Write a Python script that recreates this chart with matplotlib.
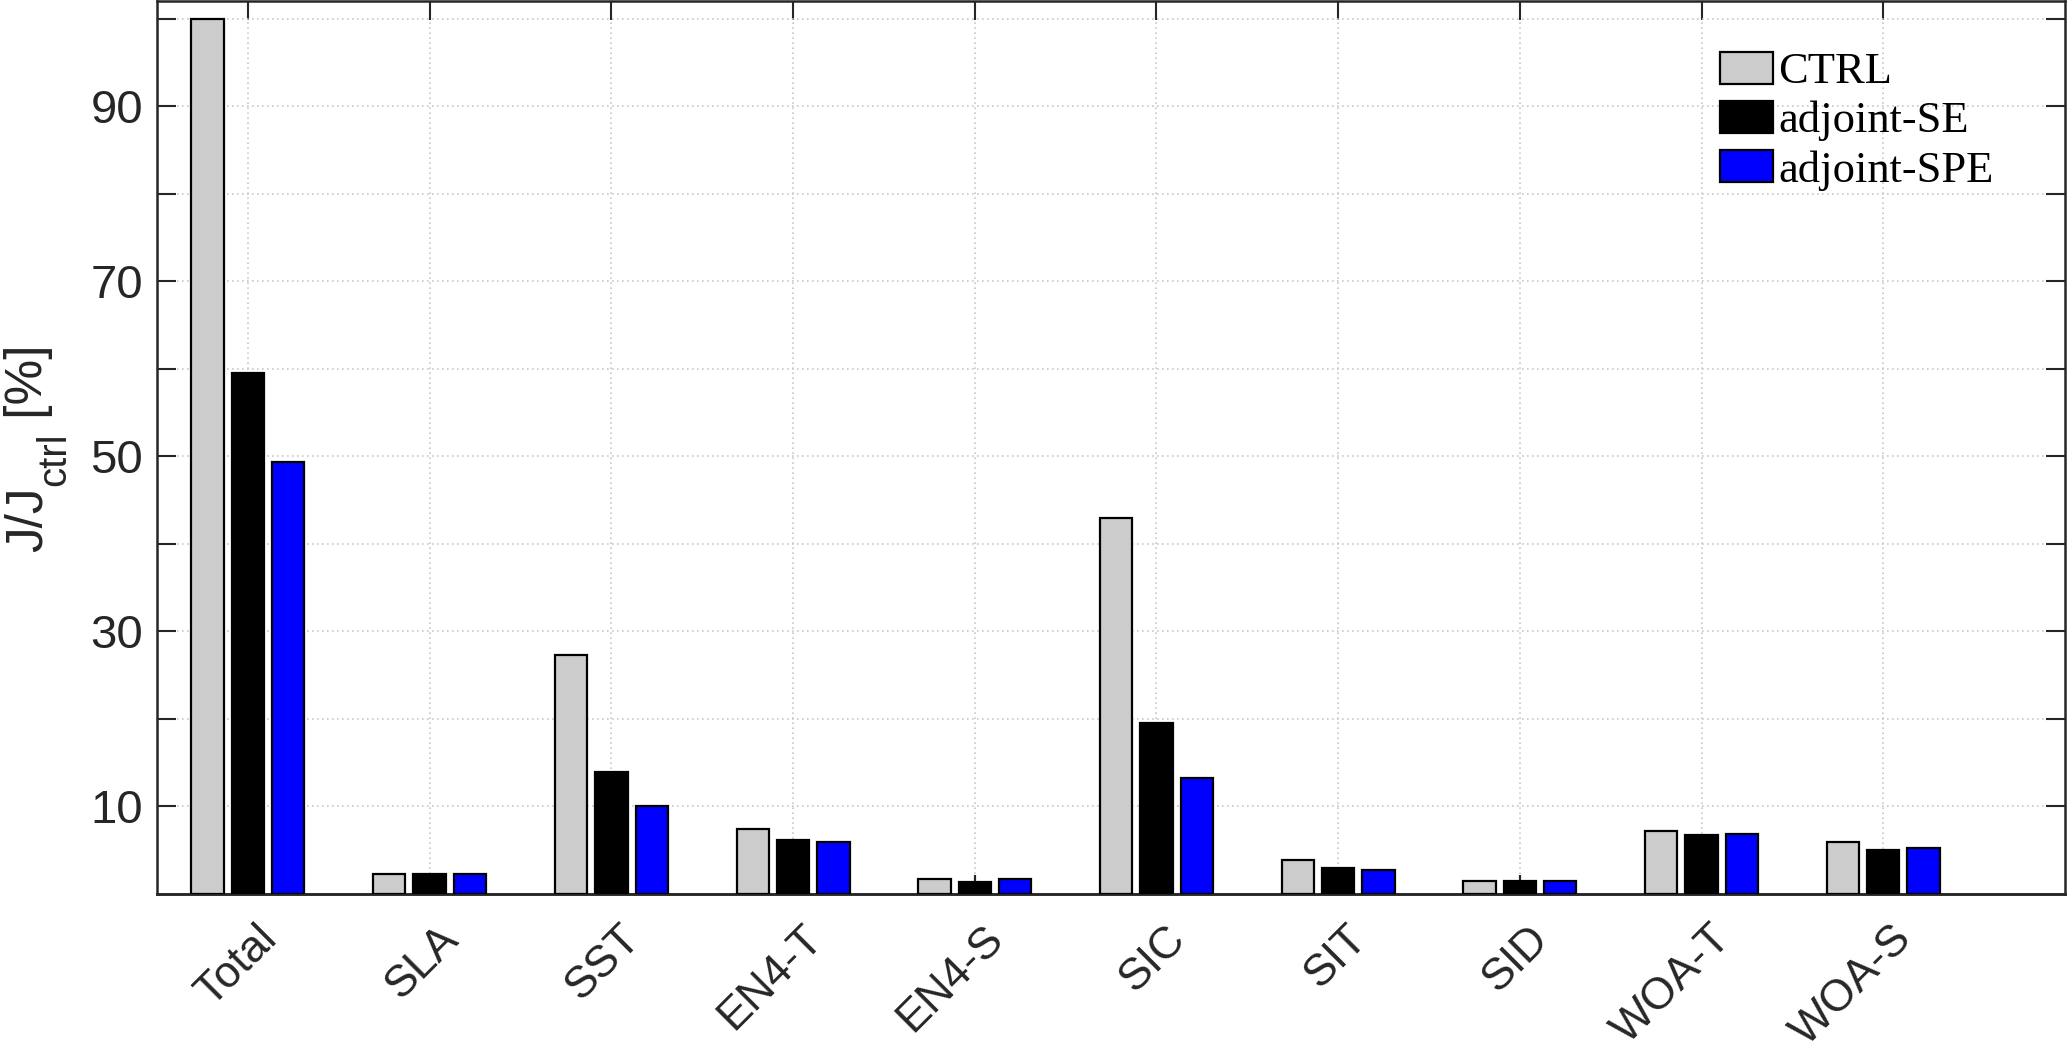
import numpy as np
import matplotlib
matplotlib.use("Agg")
import matplotlib.pyplot as plt
from matplotlib.transforms import ScaledTranslation

categories = ["Total", "SLA", "SST", "EN4-T", "EN4-S", "SIC", "SIT", "SID", "WOA-T", "WOA-S"]
ctrl = [100.0, 2.3, 27.3, 7.4, 1.7, 42.9, 3.9, 1.45, 7.2, 5.9]
adj_se = [59.5, 2.3, 13.9, 6.2, 1.4, 19.5, 3.0, 1.45, 6.7, 5.0]
adj_spe = [49.4, 2.3, 10.1, 5.9, 1.7, 13.3, 2.7, 1.45, 6.9, 5.2]
series_names = ["CTRL", "adjoint-SE", "adjoint-SPE"]
series_colors = ["#cccccc", "#000000", "#0000ff"]
ytick_vals = [10, 20, 30, 40, 50, 60, 70, 80, 90, 100]
ytick_labels = ["10", "", "30", "", "50", "", "70", "", "90", ""]

plt.rcParams["font.family"] = ["Liberation Sans", "DejaVu Sans"]

axc = "#262626"
fig = plt.figure(figsize=(20.67, 10.55), dpi=100)
ax = fig.add_axes([0.076, 0.1526, 0.923, 0.8464])

x = np.arange(1, len(categories) + 1)
width = 0.178
offs = [-0.222, 0.0, 0.222]
for vals, off, col, name in zip([ctrl, adj_se, adj_spe], offs, series_colors, series_names):
    ax.bar(x + off, vals, width, color=col, edgecolor="black", linewidth=1.6, label=name, zorder=3)

ax.set_xlim(0.5, 11)
ax.set_ylim(0, 102)
ax.set_yticks(ytick_vals)
ax.set_yticklabels(ytick_labels)
ax.set_xticks(x)
ax.set_xticklabels(categories, rotation=45, ha="right", va="top", rotation_mode="anchor")

ax.tick_params(axis="both", direction="in", length=14, width=1.5, colors=axc,
               labelsize=34, top=True, right=True, pad=10)
ax.tick_params(axis="x", pad=17, labelsize=32)
off = ScaledTranslation(8 / 100, 0, fig.dpi_scale_trans)
for lab in ax.get_xticklabels():
    lab.set_transform(lab.get_transform() + off)
for s in ax.spines.values():
    s.set_linewidth(1.8)
    s.set_color(axc)

ax.set_axisbelow(True)
ax.grid(True, linestyle=(0, (1, 2)), color="#c8c8c8", linewidth=1.2)

# bottom tick marks drawn over the bars
sec = ax.secondary_xaxis("bottom")
sec.set_xticks(x)
sec.tick_params(direction="in", length=14, width=1.5, colors=axc, labelbottom=False)
sec.spines["bottom"].set_linewidth(1.8)
sec.spines["bottom"].set_color(axc)

# y label composed as J/J + subscript ctrl + [%]
renderer = fig.canvas.get_renderer()
fs_main, fs_sub = 37, 29
xb = 42 / 2067
xb_sub = 65 / 2067
yc = 1 - 448 / 1055
pieces = [("J/J", fs_main, xb), ("ctrl", fs_sub, xb_sub), (" [%]", fs_main, xb)]
texts = []
lengths = []
for s, fs, xx in pieces:
    t = fig.text(xx, 0, s, rotation=90, rotation_mode="anchor", ha="left", va="baseline",
                 fontsize=fs, color=axc)
    texts.append(t)
    lengths.append(t.get_window_extent(renderer).height / fig.bbox.height)
total = sum(lengths)
y0 = yc - total / 2
for t, L in zip(texts, lengths):
    t.set_y(y0)
    y0 += L

leg = ax.legend(loc="upper left", bbox_to_anchor=(0.8321, 0.951), bbox_transform=fig.transFigure,
                frameon=False, prop={"family": "Liberation Serif", "size": 32},
                handlelength=1.2, handleheight=0.74, handletextpad=0.12, labelspacing=0.19,
                borderpad=0, borderaxespad=0)

fig.savefig("out.png", dpi=100)
